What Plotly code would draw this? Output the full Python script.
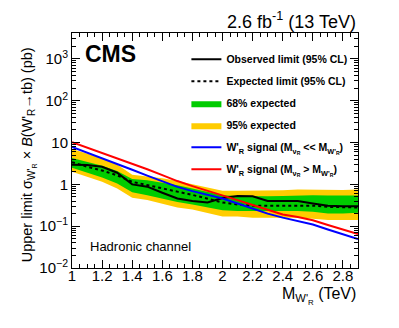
import plotly.graph_objects as go

mass = [1.0, 1.1, 1.2, 1.3, 1.4, 1.5, 1.6, 1.7, 1.8, 1.9,
        2.0, 2.1, 2.2, 2.3, 2.4, 2.5, 2.6, 2.7, 2.8, 2.9]
observed = [2.95, 2.9, 2.64, 1.9, 1.0, 0.88, 0.63, 0.46, 0.40, 0.37,
            0.47, 0.53, 0.52, 0.40, 0.40, 0.40, 0.35, 0.31, 0.30, 0.30]
expected = [3.4, 2.64, 2.15, 1.64, 1.15, 0.95, 0.80, 0.67, 0.56, 0.46,
            0.37, 0.33, 0.31, 0.31, 0.31, 0.32, 0.31, 0.29, 0.28, 0.28]
green_up = [4.3, 3.5, 2.8, 2.1, 1.35, 1.25, 1.1, 0.95, 0.8, 0.65,
            0.55, 0.53, 0.52, 0.52, 0.53, 0.55, 0.55, 0.54, 0.54, 0.54]
green_dn = [2.5, 1.9, 1.45, 1.05, 0.65, 0.55, 0.45, 0.38, 0.33, 0.28,
            0.24, 0.23, 0.23, 0.23, 0.23, 0.23, 0.22, 0.20, 0.20, 0.21]
yellow_up = [7.0, 5.5, 4.2, 3.0, 1.7, 1.55, 1.4, 1.2, 1.0, 0.82,
             0.70, 0.70, 0.70, 0.70, 0.72, 0.75, 0.74, 0.72, 0.73, 0.75]
yellow_dn = [2.0, 1.5, 1.15, 0.8, 0.48, 0.42, 0.34, 0.28, 0.25, 0.21,
             0.17, 0.17, 0.16, 0.16, 0.16, 0.16, 0.15, 0.14, 0.14, 0.14]
sig_light_nu = [7.9, 5.8, 4.3, 3.1, 2.24, 1.62, 1.2, 0.87, 0.69, 0.56,
                0.46, 0.35, 0.26, 0.20, 0.16, 0.13, 0.11, 0.083, 0.063, 0.049]
sig_heavy_nu = [10.2, 7.6, 5.7, 4.3, 3.2, 2.3, 1.66, 1.2, 0.91, 0.71,
                0.55, 0.42, 0.32, 0.245, 0.19, 0.166, 0.138, 0.107, 0.083, 0.065]

x_ticks = [1.0, 1.2, 1.4, 1.6, 1.8, 2.0, 2.2, 2.4, 2.6, 2.8]
x_labels = ["1", "1.2", "1.4", "1.6", "1.8", "2", "2.2", "2.4", "2.6", "2.8"]
y_ticks = [0.01, 0.1, 1, 10, 100, 1000]
y_labels = ["10<sup>\u22122</sup>", "10<sup>\u22121</sup>", "1", "10", "10<sup>2</sup>", "10<sup>3</sup>"]

FONT = "Liberation Sans, Arial, sans-serif"
YELLOW = "#ffcc00"
GREEN = "#00cc00"

fig = go.Figure()

# 95% band
fig.add_trace(go.Scatter(x=mass, y=yellow_dn, mode="lines", line=dict(width=0),
                         showlegend=False, hoverinfo="skip"))
fig.add_trace(go.Scatter(x=mass, y=yellow_up, mode="lines", line=dict(width=0),
                         fill="tonexty", fillcolor=YELLOW, name="95% expected",
                         legendrank=4, legendgroup="d"))
# 68% band
fig.add_trace(go.Scatter(x=mass, y=green_dn, mode="lines", line=dict(width=0),
                         showlegend=False, hoverinfo="skip"))
fig.add_trace(go.Scatter(x=mass, y=green_up, mode="lines", line=dict(width=0),
                         fill="tonexty", fillcolor=GREEN, name="68% expected",
                         legendrank=3, legendgroup="c"))

fig.add_trace(go.Scatter(x=mass, y=expected, mode="lines",
                         line=dict(color="black", width=2, dash="dot"),
                         name="Expected limit (95% CL)", legendrank=2, legendgroup="b"))
fig.add_trace(go.Scatter(x=mass, y=observed, mode="lines",
                         line=dict(color="black", width=2),
                         name="Observed limit (95% CL)", legendrank=1, legendgroup="a"))
fig.add_trace(go.Scatter(x=mass, y=sig_light_nu, mode="lines",
                         line=dict(color="#0000ff", width=2),
                         name="W'<sub>R</sub> signal (M<sub>\u03bd<sub>R</sub></sub> << M<sub>W'<sub>R</sub></sub>)",
                         legendrank=5, legendgroup="e"))
fig.add_trace(go.Scatter(x=mass, y=sig_heavy_nu, mode="lines",
                         line=dict(color="#ff0000", width=2),
                         name="W'<sub>R</sub> signal (M<sub>\u03bd<sub>R</sub></sub> > M<sub>W'<sub>R</sub></sub>)",
                         legendrank=6, legendgroup="f"))

y_minor = [m * 10 ** k for k in range(-2, 4) for m in range(2, 10)]

fig.update_layout(
    width=399, height=328,
    margin=dict(l=72, r=41, t=33, b=60),
    paper_bgcolor="white", plot_bgcolor="white",
    font=dict(family=FONT, color="black", size=14),
    showlegend=True,
    legend=dict(x=0.40, y=0.95, xanchor="left", yanchor="top",
                bgcolor="rgba(0,0,0,0)", font=dict(size=10.5, family=FONT, weight="bold"),
                traceorder="grouped", tracegroupgap=3, itemwidth=30),
    xaxis=dict(range=[1.0, 2.9], showgrid=False, zeroline=False, automargin=False,
               showline=True, linecolor="black", linewidth=1, mirror="allticks",
               ticks="inside", ticklen=8, tickcolor="black", ticklabelstandoff=-6,
               tickvals=x_ticks, ticktext=x_labels, tickfont=dict(size=15),
               minor=dict(ticks="inside", ticklen=4, tickcolor="black", dtick=0.05, tick0=1.0),
               title=None),
    yaxis=dict(type="log", range=[-2, 3.62], showgrid=False, zeroline=False, automargin=False,
               showline=True, linecolor="black", linewidth=1, mirror="allticks",
               ticks="inside", ticklen=8, tickcolor="black",
               tickvals=y_ticks, ticktext=y_labels, tickfont=dict(size=15),
               minor=dict(ticks="inside", ticklen=4, tickcolor="black",
                          tickmode="array", tickvals=y_minor),
               title=None),
)

# y-axis title as rotated annotation
fig.add_annotation(x=-0.15, y=0.48, xref="paper", yref="paper", xanchor="center", yanchor="middle",
                   textangle=-90, showarrow=False,
                   text="Upper limit \u03c3<sub>W'<sub>R</sub></sub> \u00d7 <i>B</i>(W'<sub>R</sub>\u2192tb) (pb)",
                   font=dict(size=14.5, family=FONT))
fig.add_annotation(x=1.0, y=1.0, xref="paper", yref="paper", xanchor="right", yanchor="bottom",
                   yshift=-1, text="2.6 fb<sup>-1</sup> (13 TeV)", showarrow=False,
                   font=dict(size=18, family=FONT))
fig.add_annotation(x=0.04, y=0.975, xref="paper", yref="paper", xanchor="left", yanchor="top",
                   text="<b>CMS</b>", showarrow=False, font=dict(size=23, family=FONT))
fig.add_annotation(x=0.055, y=0.09, xref="paper", yref="paper", xanchor="left", yanchor="middle",
                   text="Hadronic channel", showarrow=False, font=dict(size=13, family=FONT))
fig.add_annotation(x=1.0, y=0, xref="paper", yref="paper", xanchor="right", yanchor="top",
                   yshift=-15, text="M<sub>W'<sub>R</sub></sub> (TeV)", showarrow=False,
                   font=dict(size=16, family=FONT))

fig.write_html("out.html", config={"displayModeBar": False},
               post_script="document.body.style.margin='0';")
